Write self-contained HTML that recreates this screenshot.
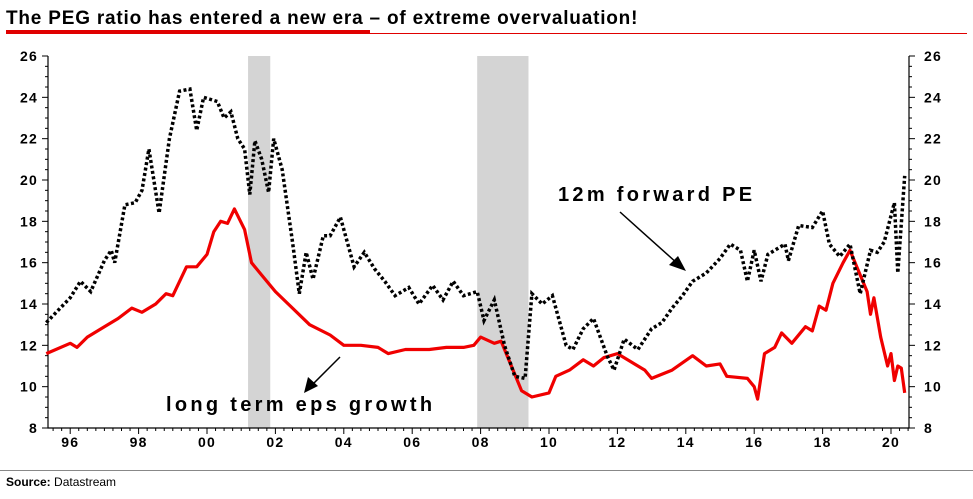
<!DOCTYPE html>
<html><head><meta charset="utf-8"><style>
body{margin:0;background:#fff;width:973px;height:494px;overflow:hidden;font-family:"Liberation Sans",Arial,sans-serif}
</style></head><body>
<svg width="973" height="494" xmlns="http://www.w3.org/2000/svg">
<text x="6" y="24" font-size="19" font-weight="bold" letter-spacing="0.8" fill="#000">The PEG ratio has entered a new era – of extreme overvaluation!</text>
<rect x="6" y="30" width="364" height="4" fill="#e00000"/>
<rect x="6" y="33" width="961" height="1" fill="#e00000"/>
<g id="bands"></g>
<g id="axes"></g>
<g id="series"></g>
<text x="558" y="201" font-size="20" font-weight="bold" letter-spacing="3.3">12m forward PE</text>
<text x="166" y="411" font-size="20" font-weight="bold" letter-spacing="3.3">long term eps growth</text>
<g><line x1="620" y1="212" x2="678" y2="264" stroke="#000" stroke-width="1.5"/><polygon points="686,271 669,265 678,256" fill="#000"/></g>
<g><line x1="340" y1="357" x2="311" y2="386" stroke="#000" stroke-width="1.5"/><polygon points="304,393 308,377 318,386" fill="#000"/></g>
<rect x="0" y="470" width="973" height="1" fill="#888"/>
<text x="6" y="486" font-size="12"><tspan font-weight="bold">Source:</tspan> Datastream</text>
</svg>
<script>
const yTicks=[8,10,12,14,16,18,20,22,24,26];
const xTickYears=[1996,1998,2000,2002,2004,2006,2008,2010,2012,2014,2016,2018,2020];
const xTickLabels=["96","98","00","02","04","06","08","10","12","14","16","18","20"];
const recessions=[[2001.2,2001.85],[2007.9,2009.4]];
const peYears=[1995.3,1996,1996.3,1996.6,1997,1997.2,1997.3,1997.6,1997.9,1998.1,1998.3,1998.6,1998.9,1999.2,1999.5,1999.7,1999.9,2000.3,2000.5,2000.7,2000.9,2001.1,2001.25,2001.4,2001.6,2001.8,2001.95,2002.2,2002.5,2002.7,2002.9,2003.1,2003.4,2003.6,2003.9,2004.3,2004.6,2004.9,2005.2,2005.5,2005.9,2006.2,2006.6,2006.9,2007.2,2007.5,2007.9,2008.1,2008.4,2008.7,2009.0,2009.3,2009.5,2009.8,2010.1,2010.5,2010.7,2011.0,2011.3,2011.7,2011.9,2012.2,2012.6,2013.0,2013.3,2013.6,2013.9,2014.2,2014.6,2015.0,2015.3,2015.6,2015.8,2016.0,2016.2,2016.4,2016.9,2017.0,2017.3,2017.7,2018.0,2018.2,2018.5,2018.8,2019.1,2019.4,2019.6,2019.8,2020.1,2020.2,2020.4];
const peValues=[13.1,14.3,15.1,14.6,16.1,16.6,16,18.8,18.9,19.5,21.5,18.4,22,24.3,24.4,22.4,24,23.8,23,23.3,22,21.5,19.3,21.9,21,19.4,22,20.5,17,14.5,16.5,15.2,17.3,17.3,18.2,15.8,16.5,15.7,15.1,14.4,14.8,14.0,14.9,14.2,15.1,14.4,14.6,13.2,14.2,12.0,10.5,10.4,14.5,14.0,14.4,12.0,11.8,12.8,13.3,11.5,10.8,12.3,11.8,12.8,13.1,13.8,14.4,15.1,15.5,16.2,16.9,16.6,15.1,16.6,15.1,16.4,16.9,16.1,17.8,17.7,18.5,16.9,16.3,16.9,14.5,16.6,16.5,17.0,18.9,15.5,20.2];
const epsYears=[1995.3,1996,1996.2,1996.5,1997,1997.4,1997.8,1998.1,1998.5,1998.8,1999.0,1999.4,1999.7,2000.0,2000.2,2000.4,2000.6,2000.8,2001.1,2001.3,2001.6,2002.0,2002.5,2003.0,2003.6,2004.0,2004.5,2005.0,2005.3,2005.8,2006.5,2007.0,2007.5,2007.8,2008.0,2008.4,2008.6,2009.0,2009.2,2009.5,2010.0,2010.2,2010.6,2011.0,2011.3,2011.6,2012.0,2012.4,2012.8,2013.0,2013.6,2014.2,2014.6,2015.0,2015.2,2015.8,2016.0,2016.1,2016.3,2016.6,2016.8,2017.1,2017.5,2017.7,2017.9,2018.1,2018.3,2018.6,2018.8,2019.0,2019.3,2019.4,2019.5,2019.7,2019.9,2020.0,2020.1,2020.2,2020.3,2020.4];
const epsValues=[11.6,12.1,11.9,12.4,12.9,13.3,13.8,13.6,14.0,14.5,14.4,15.8,15.8,16.4,17.5,18.0,17.9,18.6,17.6,16.0,15.4,14.6,13.8,13.0,12.5,12.0,12.0,11.9,11.6,11.8,11.8,11.9,11.9,12.0,12.4,12.1,12.2,10.6,9.8,9.5,9.7,10.5,10.8,11.3,11.0,11.4,11.6,11.2,10.8,10.4,10.8,11.5,11.0,11.1,10.5,10.4,10.0,9.4,11.6,11.9,12.6,12.1,12.9,12.7,13.9,13.7,15.0,16.0,16.6,15.8,14.6,13.5,14.3,12.4,11.0,11.6,10.3,11.0,10.9,9.7];

const NS="http://www.w3.org/2000/svg";
const X0=48,X1=909,Y0=428,Y1=56;
const xs=yr=>207+34.2*(yr-2000);
const ys=v=>Y0-(v-8)*(Y0-Y1)/18;
function mk(tag,attrs,parent){const e=document.createElementNS(NS,tag);for(const k in attrs)e.setAttribute(k,attrs[k]);parent.appendChild(e);return e;}
const bands=document.getElementById('bands'),axes=document.getElementById('axes'),series=document.getElementById('series');
recessions.forEach(r=>{const e=mk('rect',{x:xs(r[0]),y:Y1,width:xs(r[1])-xs(r[0]),height:Y0-Y1,fill:'#d4d4d4'},bands);

});
let ax=mk('path',{d:`M${X0},${Y1}V${Y0}H${X1}V${Y1}`,fill:'none',stroke:'#000','stroke-width':1.2},axes);


for(let v=8;v<=26;v+=0.5){const big=Number.isInteger(v/2);const l=big?6:3;
mk('line',{x1:X0-l,x2:X0,y1:ys(v),y2:ys(v),stroke:'#000','stroke-width':1},axes);
mk('line',{x1:X1,x2:X1+l,y1:ys(v),y2:ys(v),stroke:'#000','stroke-width':1},axes);}
yTicks.forEach(v=>{let t=mk('text',{x:X0-10,y:ys(v)+5,'text-anchor':'end','font-size':14,'font-weight':'bold','letter-spacing':1.2},axes);t.textContent=v;


let t2=mk('text',{x:X1+15,y:ys(v)+5,'font-size':14,'font-weight':'bold','letter-spacing':1.2},axes);t2.textContent=v;

});
for(let m=1995.5;m<=2020.5;m+=0.25){const big=Number.isInteger(m)&&m%2===0;
mk('line',{x1:xs(m),x2:xs(m),y1:Y0,y2:Y0+(big?6:3),stroke:'#000','stroke-width':1},axes);}
xTickYears.forEach((yr,i)=>{let t=mk('text',{x:xs(yr),y:Y0+19,'text-anchor':'middle','font-size':14,'font-weight':'bold','letter-spacing':1.2},axes);t.textContent=xTickLabels[i];

});
function pts(xa,va){return xa.map((x,i)=>xs(x).toFixed(1)+','+ys(va[i]).toFixed(1)).join(' ');}
let eps=mk('polyline',{points:pts(epsYears,epsValues),fill:'none',stroke:'#f00000','stroke-width':3.2,'stroke-linejoin':'round'},series);


let pe=mk('polyline',{points:pts(peYears,peValues),fill:'none',stroke:'#000','stroke-width':3.5,'stroke-dasharray':'3 2.5'},series);


</script>
</body></html>
